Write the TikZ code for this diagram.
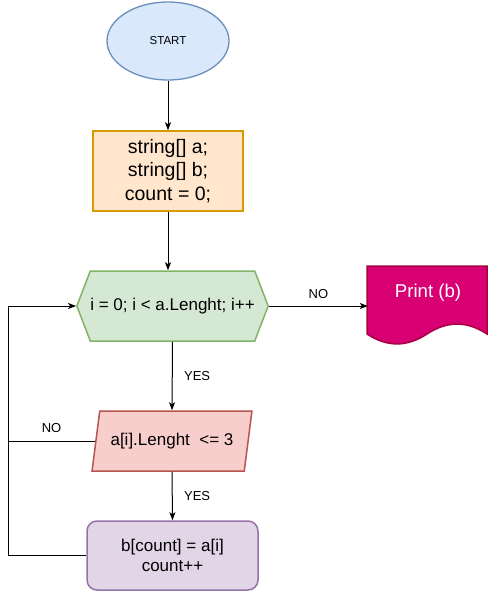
\documentclass[tikz,border=0pt]{standalone}
\usepackage{fontspec}
\setmainfont{Liberation Sans}
\usetikzlibrary{shapes.geometric,shapes.symbols,arrows.meta}
\definecolor{startfill}{HTML}{DAE8FC}
\definecolor{startline}{HTML}{6C8EBF}
\definecolor{initfill}{HTML}{FFE6CC}
\definecolor{initline}{HTML}{D79B00}
\definecolor{loopfill}{HTML}{D5E8D4}
\definecolor{loopline}{HTML}{82B366}
\definecolor{condfill}{HTML}{F8CECC}
\definecolor{condline}{HTML}{B85450}
\definecolor{bodyfill}{HTML}{E1D5E7}
\definecolor{bodyline}{HTML}{9673A6}
\definecolor{printfill}{HTML}{D80073}
\definecolor{printline}{HTML}{A50040}

\tikzset{
	startbox/.style={ellipse, draw=startline, fill=startfill, line width=1.3pt, minimum width=122pt, minimum height=78pt, font=\fontsize{11.5}{14}\selectfont},
	initbox/.style={rectangle, draw=initline, fill=initfill, line width=1.5pt, minimum width=150pt, minimum height=80pt, align=center, font=\fontsize{19.5}{23.5}\selectfont},
	loopbox/.style={signal, signal to=west and east, signal pointer angle=138, inner xsep=0pt, draw=loopline, fill=loopfill, line width=1.5pt, minimum height=70pt, font=\fontsize{17}{20}\selectfont},
	condbox/.style={trapezium, trapezium left angle=73, trapezium right angle=107, trapezium stretches=true, draw=condline, fill=condfill, line width=1.5pt, minimum width=160pt, minimum height=60pt, font=\fontsize{17}{20}\selectfont},
	bodybox/.style={rectangle, rounded corners=10pt, draw=bodyline, fill=bodyfill, line width=1.5pt, minimum width=171pt, minimum height=69pt, align=center, font=\fontsize{17}{20}\selectfont},
	printbox/.style={rectangle, minimum width=120pt, minimum height=80pt, text=white, text depth=30pt, font=\fontsize{18.6}{22}\selectfont},
	lbl/.style={font=\fontsize{13}{15}\selectfont},
	flow/.style={->, line width=1pt},
}

\begin{document}
\begin{tikzpicture}[>={Stealth[length=8pt,width=6pt,inset=2pt]}, x=1pt, y=-1pt]

	\useasboundingbox (0,0) rectangle (492,594);

	\node[startbox] (start) at (168,41) {START};
	\node[initbox] (init) at (168,171) {string[] a;\\string[] b;\\count = 0;};
	\node[loopbox] (loop) at (172.5,306) {i = 0; i < a.Lenght; i++};
	\node[condbox] (cond) at (172,441) {a[i].Lenght\ \ <= 3};
	\node[bodybox] (body) at (172.5,555.5) {b[count] = a[i]\\count++};

	% document shape for the output
	\filldraw[draw=printline, fill=printfill, line width=1.5pt] (367,266) -- (487,266) -- (487,334)
		.. controls (467,320.8) and (447,320.8) .. (427,334)
		.. controls (407,347.2) and (387,347.2) .. (367,334) -- cycle;
	\node[printbox] (print) at (428,306) {Print (b)};

	\coordinate (rail) at (8,306);

	\draw[flow] (start) -- (init);
	\draw[flow] (init.south) -- (init.south |- loop.north);
	\draw[flow] (loop.east) -- node[lbl, above=4pt]{NO} (print.west);
	\draw[flow] (loop.south) -- node[lbl, right=8pt]{YES} (cond.north);
	\draw[flow] (cond.south) -- node[lbl, right=8pt]{YES} (body.north);
	\draw[line width=1pt] (cond.left side) -- node[lbl, above=5pt]{NO} (cond.left side -| rail);
	\draw[flow] (body.west) -- (body.west -| rail) |- (loop.west);

\end{tikzpicture}
\end{document}
